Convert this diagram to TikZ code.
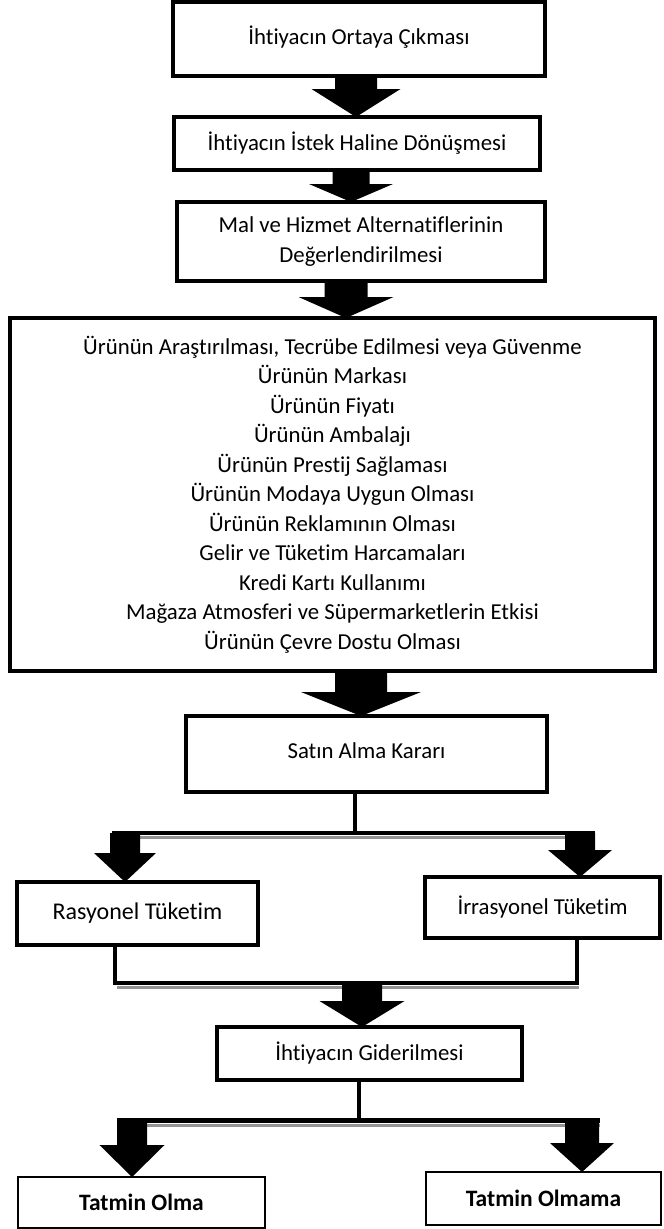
\documentclass[tikz,border=0pt]{standalone}
\usepackage{fontspec}
\setmainfont[Ligatures=NoCommon]{Carlito}
\usetikzlibrary{calc}
\newcommand\blockarrow[6]{%
  \fill let \p1=(#1), \p2=(#2) in
   (#3pt-#4pt,\y1) -- (#3pt+#4pt,\y1) -- (#3pt+#4pt,\y2+#6pt) -- (#3pt+#5pt,\y2+#6pt)
   -- (#3pt,\y2) -- (#3pt-#5pt,\y2+#6pt) -- (#3pt-#4pt,\y2+#6pt) -- cycle;}
\begin{document}
\begin{tikzpicture}[x=1pt,y=-1pt,
  box/.style={draw, line width=4.5pt, rectangle, inner sep=0pt, outer sep=0pt, align=center,
              font=\fontsize{22.8}{29.5}\selectfont},
  thinbox/.style={draw, line width=1.8pt, rectangle, inner sep=0pt, outer sep=0pt, align=center,
              font=\fontsize{23.5}{26}\selectfont\bfseries},
  conn/.style={line width=4.5pt},
  shadowline/.style={line width=3pt, draw=black!42}]
\useasboundingbox (0,0) rectangle (664,1229);

% boxes
\node[box, minimum width=372pt, minimum height=74pt] (b1) at (359,39) {\raisebox{7pt}{İhtiyacın Ortaya Çıkması}};
\node[box, minimum width=366pt, minimum height=53pt] (b2) at (357,143.5) {İhtiyacın İstek Haline Dönüşmesi};
\node[box, minimum width=368pt, minimum height=79pt] (b3) at (361,241.5) {Mal ve Hizmet Alternatiflerinin\\Değerlendirilmesi};
\node[box, minimum width=645pt, minimum height=353pt] (b4) at (332.5,494.5) {%
Ürünün Araştırılması, Tecrübe Edilmesi veya Güvenme\\
Ürünün Markası\\
Ürünün Fiyatı\\
Ürünün Ambalajı\\
Ürünün Prestij Sağlaması\\
Ürünün Modaya Uygun Olması\\
Ürünün Reklamının Olması\\
Gelir ve Tüketim Harcamaları\\
Kredi Kartı Kullanımı\\
Mağaza Atmosferi ve Süpermarketlerin Etkisi\\
Ürünün Çevre Dostu Olması};
\node[box, minimum width=361pt, minimum height=76pt] (b5) at (366.5,754) {\raisebox{7pt}{Satın Alma Kararı}};
\node[box, minimum width=241pt, minimum height=63pt, font=\fontsize{24}{29.5}\selectfont] (b6) at (137.5,913.5) {Rasyonel Tüketim};
\node[box, minimum width=235pt, minimum height=61pt] (b7) at (542.5,907.5) {İrrasyonel Tüketim};
\node[box, minimum width=305pt, minimum height=53pt] (b8) at (369.5,1053.5) {İhtiyacın Giderilmesi};
\node[thinbox, minimum width=247pt, minimum height=51pt] (b9) at (141.5,1202.5) {\raisebox{-2pt}{Tatmin Olma}};
\node[thinbox, minimum width=235pt, minimum height=53pt] (b10) at (543.5,1198.5) {Tatmin Olmama};

% block arrows between boxes
\blockarrow{b1.south}{b2.north}{356}{21}{44.5}{28}
\blockarrow{b2.south}{b3.north}{351}{18.5}{42}{18}
\blockarrow{b3.south}{b4.north}{346}{21.5}{47.5}{21}
\blockarrow{b4.south}{b5.north}{361}{26}{60}{24}

% first split
\coordinate (s1) at (355,833);
\coordinate (s1l) at (112,833);
\coordinate (s1r) at (595,833);
\draw[shadowline] ([yshift=-4.5pt]s1l) -- ([yshift=-4.5pt]s1r);
\draw[conn] (b5.south -| s1) -- (s1);
\draw[conn] (s1l) -- (s1r);
\blockarrow{s1l}{b6.north}{125}{15}{31}{29}
\blockarrow{s1r}{b7.north}{580}{15}{32}{27}

% merge
\coordinate (j2l) at (115,983);
\coordinate (j2r) at (577,983);
\coordinate (j2) at (362,983);
\draw[shadowline] ([shift={(2pt,-4.5pt)}]j2l) -- ([shift={(2pt,-4.5pt)}]j2r);
\draw[conn] (b6.south -| j2l) -- (j2l) -- (j2r) -- (b7.south -| j2r);
\blockarrow{j2}{b8.north}{362}{20}{42.5}{26}

% second split
\coordinate (s3) at (359,1120.5);
\coordinate (s3l) at (117,1120.5);
\coordinate (s3r) at (600,1120.5);
\draw[shadowline] ([yshift=-4.5pt]s3l) -- ([yshift=-4.5pt]s3r);
\draw[conn] (b8.south -| s3) -- (s3);
\draw[conn] (s3l) -- (s3r);
\blockarrow{s3l}{b9.north}{132}{15}{32.5}{32}
\blockarrow{s3r}{b10.north}{582}{17}{32}{29}
\end{tikzpicture}
\end{document}
